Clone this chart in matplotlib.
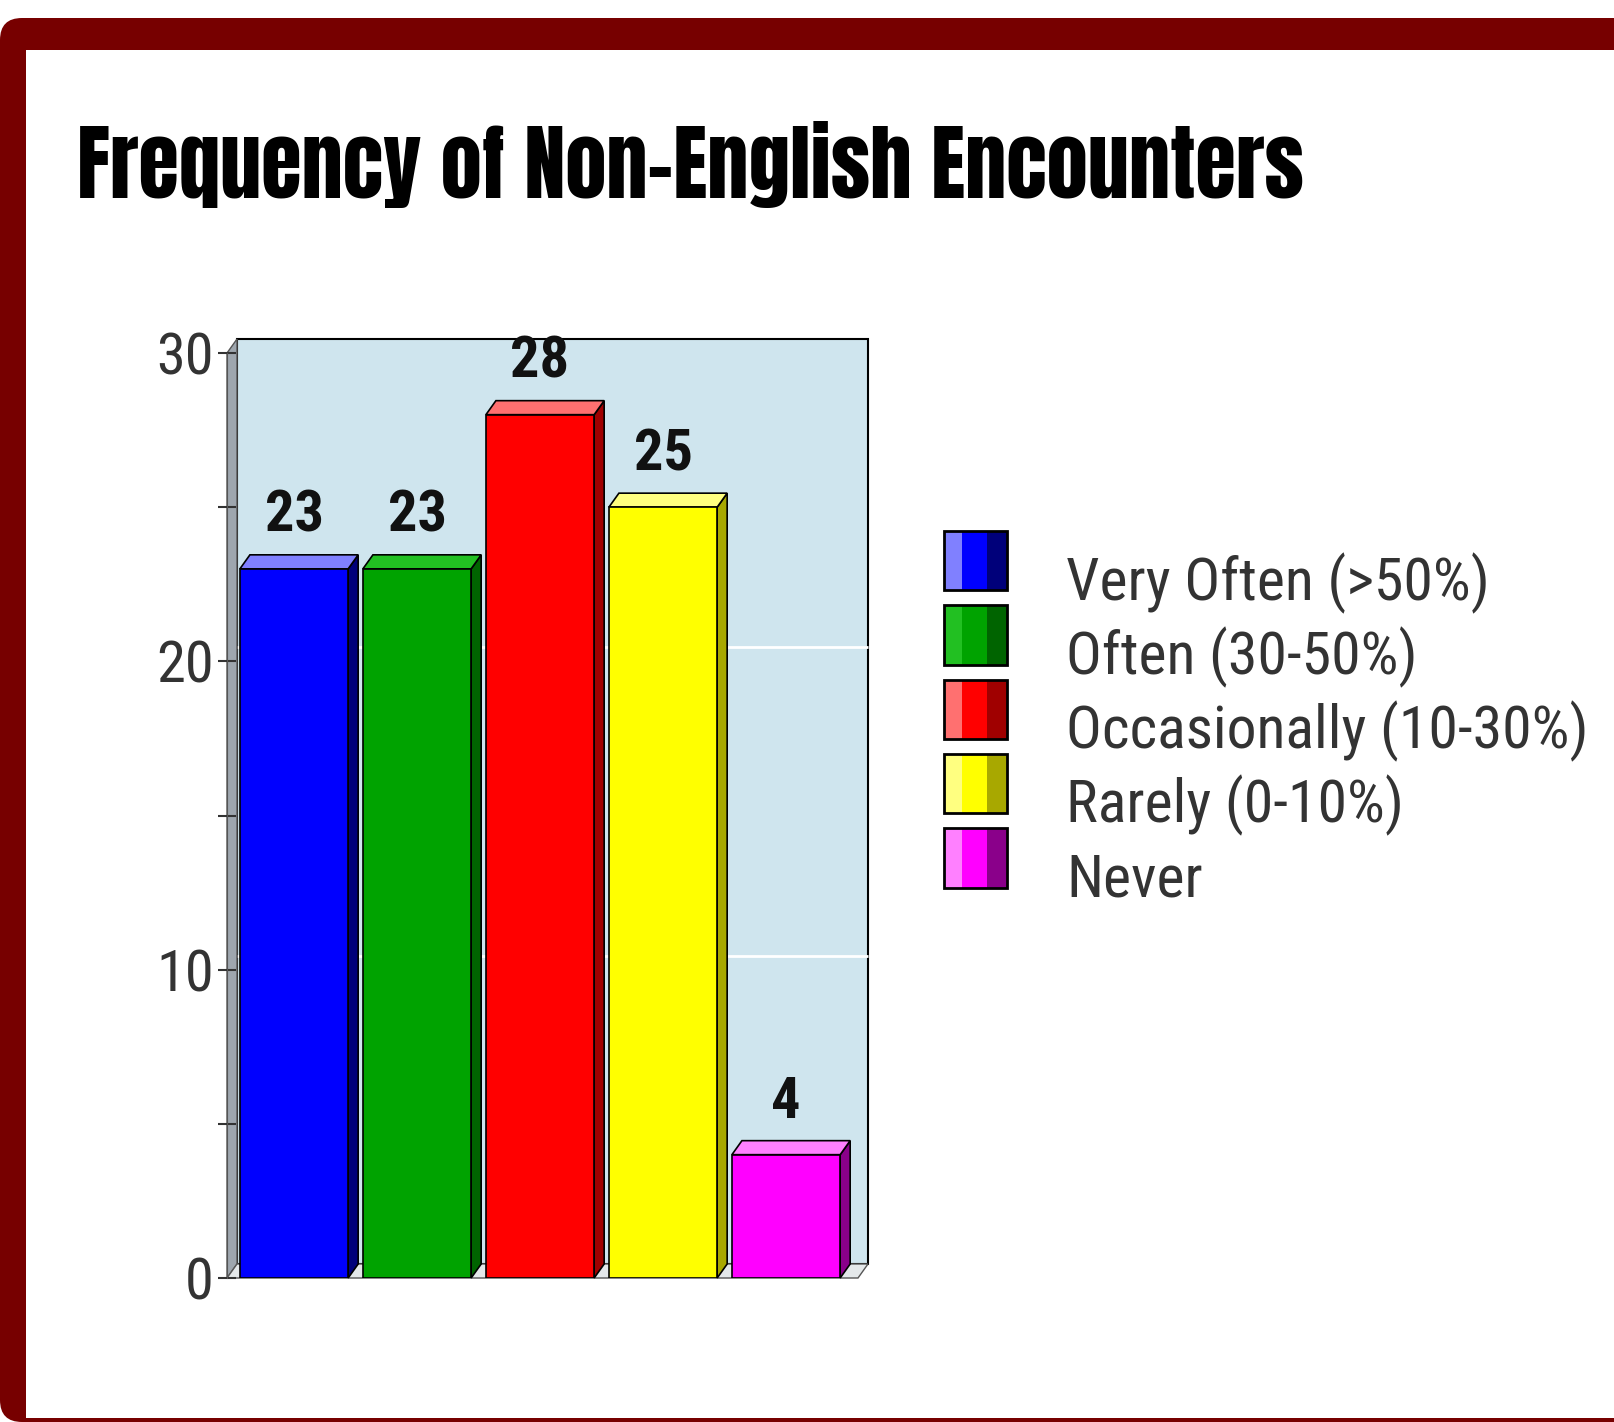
import matplotlib
matplotlib.use('Agg')
import matplotlib.pyplot as plt
from matplotlib import font_manager
from matplotlib.patches import Rectangle, FancyBboxPatch, Patch
from matplotlib.legend_handler import HandlerBase
from matplotlib.transforms import IdentityTransform

title = 'Frequency of Non-English Encounters'
categories = ['Very Often (>50%)', 'Often (30-50%)', 'Occasionally (10-30%)',
              'Rarely (0-10%)', 'Never']
values = [23, 23, 28, 25, 4]
yticks = [0, 10, 20, 30]
yminor = [5, 15, 25]

front = ['#0000ff', '#00a300', '#ff0000', '#ffff00', '#ff00ff']
side = ['#00007a', '#006400', '#a00000', '#a8a800', '#8a008a']
top = ['#8080ff', '#22c022', '#ff7070', '#ffff80', '#ff80ff']

# layout in pixels of the 1614x1422 image (y measured from top)
W, H = 1614, 1422
ax_l, ax_r = 227, 858
ax_b, ax_t = 1278, 353
x_lo, x_hi = -0.545, 4.585
y_lo, y_hi = 0, 30
bw = 0.88
DX = 10 * (x_hi - x_lo) / (ax_r - ax_l)
DY = 14 * (y_hi - y_lo) / (ax_b - ax_t)

names = {f.name for f in font_manager.fontManager.ttflist}


def pick(cands, default):
    for c in cands:
        if c in names:
            return c
    return default


narrow = pick(['Liberation Sans Narrow', 'Roboto Condensed', 'Archivo Narrow', 'Fira Sans Condensed'], 'DejaVu Sans')
narrow_bold = pick(['Liberation Sans Narrow', 'Roboto Condensed', 'Fira Sans Condensed', 'Asap Condensed'], 'DejaVu Sans')
heavy = pick(['Anton', 'Bebas Neue', 'Oswald'], 'DejaVu Sans')
plt.rcParams['font.family'] = [narrow, 'DejaVu Sans']

fig = plt.figure(figsize=(W / 100, H / 100), dpi=100)
fig.patch.set_facecolor('white')

# dark red frame
ident = IdentityTransform()
fig.patches.append(FancyBboxPatch((0, 0), W + 60, H - 18, boxstyle='round,pad=0,rounding_size=22',
                                  transform=ident, facecolor='#770000', edgecolor='none', zorder=0))
fig.patches.append(Rectangle((26, 4), W, H - 50 - 4, transform=ident,
                             facecolor='white', edgecolor='none', zorder=0.1))

t = fig.text(77 / W, 1 - 198 / H, title, ha='left', va='baseline', fontsize=60,
             family=[heavy, 'DejaVu Sans'], fontweight='bold' if heavy == 'DejaVu Sans' else 'normal',
             color='black', zorder=2)
r = fig.canvas.get_renderer()
t.set_fontsize(60 * 1228 / t.get_window_extent(r).width)

ax = fig.add_axes([ax_l / W, 1 - ax_b / H, (ax_r - ax_l) / W, (ax_b - ax_t) / H])
ax.set_zorder(1)
ax.set_facecolor('none')
ax.set_xlim(x_lo, x_hi)
ax.set_ylim(y_lo, y_hi)

# back wall, side wall and floor
ax.add_patch(Rectangle((x_lo + DX, DY), x_hi - x_lo, y_hi - y_lo, facecolor='#cfe5ee',
                       edgecolor='black', linewidth=1.5, zorder=0.5, clip_on=False))
ax.fill([x_lo, x_lo + DX, x_lo + DX, x_lo], [0, DY, y_hi + DY, y_hi],
        facecolor='#9ea6ae', edgecolor='#555555', linewidth=1, zorder=0.6, clip_on=False)
ax.fill([x_lo, x_hi, x_hi + DX, x_lo + DX], [0, 0, DY, DY],
        facecolor='#e4e8ea', edgecolor='#555555', linewidth=1, zorder=0.6, clip_on=False)
ax.hlines([v + DY for v in yticks[1:-1]], x_lo + DX, x_hi + DX, color='white',
          linewidth=2, zorder=0.55, clip_on=False)

xs = list(range(len(values)))
ax.bar(xs, values, width=bw, color=front, edgecolor='black', linewidth=1.2, zorder=3)
for i, v in enumerate(values):
    l, rr = i - bw / 2, i + bw / 2
    ax.fill([rr, rr + DX, rr + DX, rr], [0, DY, v + DY, v], facecolor=side[i],
            edgecolor='black', linewidth=1.2, zorder=2.5, clip_on=False)
    ax.fill([l, rr, rr + DX, l + DX], [v, v, v + DY, v + DY], facecolor=top[i],
            edgecolor='black', linewidth=1.2, zorder=2.5, clip_on=False)
    ax.annotate(str(v), (i, v + DY), xytext=(0, 8), textcoords='offset points',
                ha='center', va='bottom', fontsize=42, fontweight='bold', color='#111111',
                family=[narrow_bold, 'DejaVu Sans'])

for s in ['top', 'right', 'bottom']:
    ax.spines[s].set_visible(False)
ax.spines['left'].set_color('#555555')
ax.set_xticks([])
ax.set_yticks(yticks)
ax.set_yticks(yminor, minor=True)
ax.set_yticklabels([str(v) for v in yticks])
ax.tick_params(axis='y', which='both', direction='inout', length=13, width=1.5,
               color='#333333', labelsize=42, labelcolor='#333333', pad=3)


class StripeHandler(HandlerBase):
    def __init__(self, light, mid, dark):
        super().__init__()
        self.cols = (light, mid, dark)

    def create_artists(self, legend, orig, xd, yd, w, h, fs, trans):
        parts = [(0, 0.28), (0.28, 0.4), (0.68, 0.32)]
        arts = [Rectangle((xd + a * w, yd), b * w, h, facecolor=c, edgecolor='none', transform=trans)
                for (a, b), c in zip(parts, self.cols)]
        arts.append(Rectangle((xd, yd), w, h, facecolor='none', edgecolor='black',
                              linewidth=2, transform=trans))
        return arts


handles = [Patch(label=c) for c in categories]
hmap = {h: StripeHandler(top[i], front[i], side[i]) for i, h in enumerate(handles)}
leg = fig.legend(handles=handles, handler_map=hmap, loc='upper left',
                 bbox_to_anchor=(944 / W, 1 - 550 / H), frameon=False, fontsize=43,
                 handlelength=1.05, handleheight=1.15, handletextpad=1.0, labelspacing=0.18,
                 borderpad=0, borderaxespad=0, labelcolor='#333333')
leg.set_zorder(2)

fig.savefig('out.png', dpi=100, facecolor='white')
